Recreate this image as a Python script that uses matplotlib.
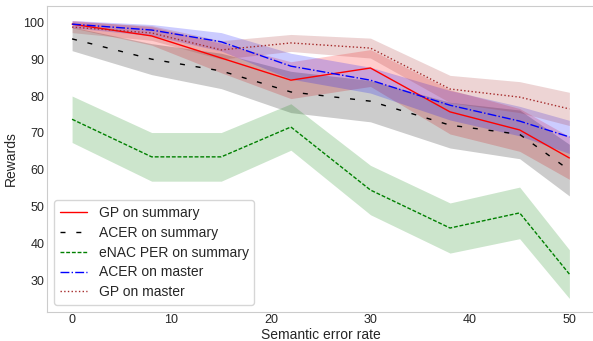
import numpy as np
import matplotlib
matplotlib.use("Agg")
import matplotlib.pyplot as plt
import seaborn as sns

sns.set_style("whitegrid")
plt.rcParams["font.family"] = ["Liberation Sans", "DejaVu Sans"]
plt.rcParams["axes.grid"] = False

error_rate = [0, 8, 15, 22, 30, 38, 45, 50]

gp_summary = [99.5, 96.3, 90.3, 84.3, 87.6, 75.7, 70.8, 63.2]
gp_summary_std = [1.0, 2.5, 4.0, 5.0, 5.0, 6.0, 5.8, 5.8]

acer_summary = [95.5, 90.0, 86.8, 81.1, 78.6, 72.1, 69.6, 59.9]
acer_summary_std = [3.2, 4.2, 4.8, 5.6, 5.6, 6.2, 6.6, 7.0]

enac_summary = [73.7, 63.5, 63.5, 71.6, 54.5, 44.2, 48.3, 31.7]
enac_summary_std = [6.3, 6.6, 6.6, 6.3, 6.7, 6.8, 7.0, 6.6]

acer_master = [99.5, 97.9, 94.7, 88.1, 84.3, 77.5, 73.2, 68.9]
acer_master_std = [1.0, 1.5, 2.5, 3.5, 3.5, 4.0, 4.0, 4.5]

gp_master = [98.7, 97.1, 92.5, 94.4, 93.0, 81.9, 79.7, 76.5]
gp_master_std = [1.5, 2.0, 2.5, 2.3, 2.7, 3.7, 4.2, 4.5]

series = [
    ("GP on summary", gp_summary, gp_summary_std, "red", "-"),
    ("ACER on summary", acer_summary, acer_summary_std, "black", (0, (3.6, 7.8))),
    ("eNAC PER on summary", enac_summary, enac_summary_std, "green", (0, (2.8, 1.3))),
    ("ACER on master", acer_master, acer_master_std, "blue", "-."),
    ("GP on master", gp_master, gp_master_std, "brown", ":"),
]

fig = plt.figure(figsize=(5.93, 3.41), dpi=100)
ax = fig.add_axes([0.0796, 0.0859, 0.9225, 0.8974])

x = np.array(error_rate)
for label, mean, std, color, ls in series:
    mean = np.array(mean)
    std = np.array(std)
    ax.plot(x, mean, color=color, linestyle=ls, linewidth=1, label=label)
    ax.fill_between(x, mean - std, mean + std, color=color, alpha=0.2, linewidth=0)

ax.set_ylim(21.5, 104.5)
ax.set_xlabel("Semantic error rate", fontsize=10, labelpad=1)
ax.set_ylabel("Rewards", fontsize=10, labelpad=4)
ax.tick_params(labelsize=9, pad=2, length=0)
ax.set_yticks([30, 40, 50, 60, 70, 80, 90, 100])
ax.legend(loc="lower left", fontsize=10, labelspacing=0.42)

fig.savefig("out.png", dpi=100)
